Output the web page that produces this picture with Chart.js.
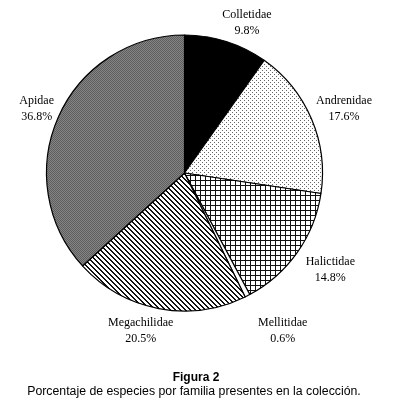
<!DOCTYPE html>
<html>
<head>
<meta charset="utf-8">
<title>Figura 2</title>
<script src="https://cdn.jsdelivr.net/npm/chart.js@4.4.0/dist/chart.umd.min.js"></script>
<style>
	body { margin: 0; background: #fff; }
	#Chart_container { position: relative; width: 393px; height: 410px; }
</style>
</head>
<body>

<div id="Chart_container">
	<canvas id="myChart"></canvas>
</div>

<script type="text/javascript">
	// data
	let familias = ['Colletidae', 'Andrenidae', 'Halictidae', 'Mellitidae', 'Megachilidae', 'Apidae'];
	let porcentajes = [9.8, 17.6, 14.8, 0.6, 20.5, 36.8];
	let etiquetas = ['9.8%', '17.6%', '14.8%', '0.6%', '20.5%', '36.8%'];
	let tituloFigura = 'Figura 2';
	let leyendaFigura = 'Porcentaje de especies por familia presentes en la colección.';

	// small tiles to imitate the printed fills
	function makePattern(size, paint){
		let c = document.createElement('canvas');
		c.width = size;
		c.height = size;
		let g = c.getContext('2d');
		paint(g, size);
		return g.createPattern(c, 'repeat');
	}

	let solidBlack = '#000';

	let dots = makePattern(4, function(g){
		g.fillStyle = '#fff';
		g.fillRect(0, 0, 4, 4);
		g.fillStyle = '#666';
		g.fillRect(0, 0, 1, 1);
		g.fillRect(2, 2, 1, 1);
	});

	let grid = makePattern(5, function(g){
		g.fillStyle = '#fff';
		g.fillRect(0, 0, 5, 5);
		g.fillStyle = '#111';
		g.fillRect(0, 0, 5, 1);
		g.fillRect(0, 0, 1, 5);
	});

	let stripes = makePattern(5, function(g){
		g.fillStyle = '#fff';
		g.fillRect(0, 0, 5, 5);
		g.fillStyle = '#111';
		for (let i = 0; i < 5; i++){
			g.fillRect(i, i, 1, 1);
			g.fillRect((i + 1) % 5, i, 1, 1);
		}
	});

	let gray = makePattern(2, function(g){
		g.fillStyle = '#858585';
		g.fillRect(0, 0, 2, 2);
		g.fillStyle = '#5e5e5e';
		g.fillRect(0, 0, 1, 1);
		g.fillRect(1, 1, 1, 1);
	});

	let fills = [solidBlack, dots, grid, '#fff', stripes, gray];

	// labels placed outside each slice, along the slice's middle angle (+ small nudge)
	let sliceLabels = {
		id: 'sliceLabels',
		afterDatasetsDraw(chart, args, opts){
			let ctx = chart.ctx;
			let meta = chart.getDatasetMeta(0);
			ctx.save();
			ctx.fillStyle = '#000';
			ctx.textAlign = 'center';
			ctx.textBaseline = 'middle';
			ctx.font = '12px "Liberation Serif", "DejaVu Serif", serif';
			meta.data.forEach(function(arc, i){
				let mid = (arc.startAngle + arc.endAngle) / 2 + opts.nudge[i] * Math.PI / 180;
				let d = opts.dist[i];
				let x = arc.x + Math.cos(mid) * d;
				let y = arc.y + Math.sin(mid) * d;
				ctx.fillText(familias[i], x, y - 8);
				ctx.fillText(etiquetas[i], x, y + 8);
			});
			ctx.restore();
		}
	};

	let caption = {
		id: 'caption',
		afterDraw(chart){
			let ctx = chart.ctx;
			ctx.save();
			ctx.fillStyle = '#000';
			ctx.textAlign = 'center';
			ctx.textBaseline = 'middle';
			ctx.font = 'bold 12px "Liberation Sans", Arial, sans-serif';
			ctx.fillText(tituloFigura, 196, 378);
			ctx.font = '12.3px "Liberation Sans", Arial, sans-serif';
			ctx.fillText(leyendaFigura, 194, 392);
			ctx.restore();
		}
	};

	let ctx = document.getElementById('myChart');

	myChart = new Chart(ctx, {
		type: 'pie',
		data: {
			labels: familias,
			datasets: [{
				data: porcentajes,
				backgroundColor: fills,
				borderColor: '#000',
				borderWidth: 1.2,
				radius: 138
			}]
		},
		options: {
			responsive: true,
			maintainAspectRatio: false,
			animation: false,
			events: [],
			layout: { padding: { left: 30, right: 54, top: 20, bottom: 84 } },
			plugins: {
				legend: { display: false },
				tooltip: { enabled: false },
				sliceLabels: {
					dist: [163, 172, 175, 186, 164, 161],
					nudge: [4.9, 1.1, -1.6, -4.7, 4.7, -0.5]
				}
			}
		},
		plugins: [sliceLabels, caption]
	});
</script>

</body>
</html>
